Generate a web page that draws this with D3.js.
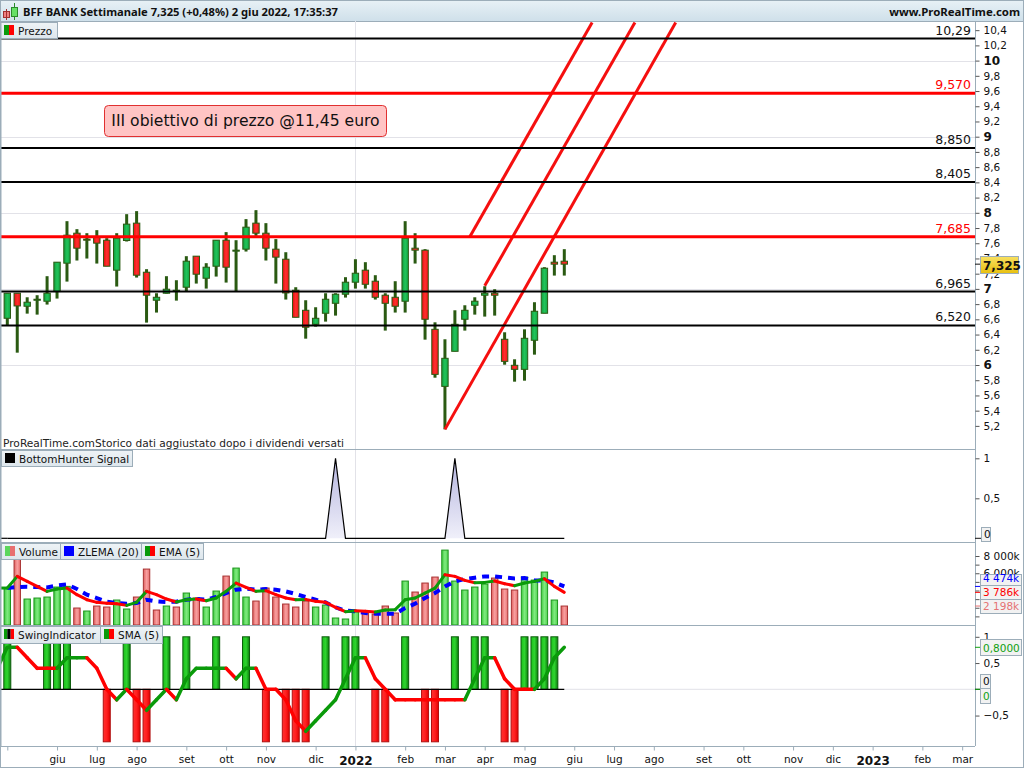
<!DOCTYPE html>
<html><head><meta charset="utf-8">
<script src="https://cdn.jsdelivr.net/npm/d3@7/dist/d3.min.js"></script>
<style>html,body{margin:0;padding:0;background:#fff;overflow:hidden}svg{display:block}text{font-family:"DejaVu Sans",sans-serif}</style>
</head><body><svg id="c" width="1024" height="768"></svg>
<script>
const opens=[6.614,6.943,6.772,6.855,6.838,6.965,7.338,7.732,7.654,7.680,7.640,7.246,7.636,7.864,7.219,6.851,6.943,6.974,7.022,7.430,7.140,7.298,7.640,7.496,7.522,7.864,7.732,7.522,7.390,6.982,6.719,6.535,6.680,6.811,6.930,7.088,7.246,7.101,6.917,6.890,6.838,7.535,7.509,6.469,5.719,6.180,6.601,6.785,6.917,6.943,6.338,5.996,5.943,6.325,6.680,7.351,7.364];
const highs=[6.943,6.943,6.890,6.917,7.167,7.351,7.890,7.785,7.732,7.772,7.667,7.732,7.982,8.022,7.259,6.943,7.167,7.114,7.430,7.430,7.338,7.640,7.746,7.640,7.917,8.035,7.864,7.654,7.482,7.022,6.851,6.759,6.943,6.943,7.154,7.390,7.351,7.180,6.943,7.101,7.890,7.732,7.522,6.561,6.338,6.719,6.785,6.890,7.035,6.996,6.430,6.075,6.469,6.825,7.285,7.443,7.522];
const lows=[6.526,6.162,6.675,6.662,6.794,6.873,7.096,7.373,7.399,7.333,7.298,7.031,7.623,7.149,6.557,6.689,6.939,6.846,6.969,7.070,7.004,7.162,7.083,6.965,7.491,7.697,7.373,7.070,6.860,6.627,6.346,6.504,6.570,6.649,6.886,7.004,7.004,6.860,6.452,6.689,6.689,7.333,6.333,5.833,5.154,6.180,6.452,6.662,6.636,6.649,6.004,5.781,5.794,6.136,6.680,7.175,7.175];
const closes=[6.943,6.776,6.825,6.864,6.943,7.351,7.706,7.535,7.640,7.601,7.298,7.667,7.851,7.180,6.917,6.890,6.996,6.982,7.364,7.193,7.285,7.640,7.285,7.509,7.811,7.732,7.535,7.417,6.947,6.627,6.496,6.614,6.864,6.930,7.088,7.206,7.061,6.890,6.811,6.772,7.667,7.509,6.601,5.877,6.088,6.535,6.719,6.838,6.943,6.917,6.048,5.943,6.351,6.706,7.272,7.325,7.325];
const volumes=[4285,7900,3011,3127,3242,4400,4478,1969,1621,2200,2084,2895,1853,3242,6485,1737,2200,2084,3706,3127,2084,3937,5674,6601,3242,2779,4285,3242,2432,2084,2779,2084,2316,811,695,1505,1390,1274,2200,1390,5095,3821,4864,5558,8685,5095,4053,4400,4748,5443,4169,4053,5558,5211,6137,2895,2198];
const volUp=[1,0,1,1,1,1,1,0,1,0,0,1,1,0,0,0,1,0,1,0,1,1,0,1,1,0,0,0,0,0,0,1,1,1,1,1,0,0,0,0,1,0,0,0,1,1,1,1,1,0,0,0,1,1,1,1,0];
const ema5=[4285,5636,5057,4478,3899,4169,4285,3513,2934,2625,2509,2470,2277,2625,3899,3513,3011,2663,2934,3011,2818,3127,3899,4864,4362,3899,3976,3513,3127,2934,2970,2741,2625,2046,1544,1660,1583,1505,1737,1776,2934,3127,3706,4285,5829,5636,5172,4902,4941,5095,4786,4555,4864,5057,5365,4478,3786];
const zlema20=[4285,4400,4439,4400,4362,4593,4709,4169,3513,3127,2702,2548,2470,2548,2934,2741,2663,2702,2934,3011,2934,3242,3706,4092,4207,4092,4169,4092,3899,3590,3242,2934,2625,2046,1660,1583,1390,1312,1312,1312,1969,2470,3127,3706,4478,5057,5327,5481,5636,5636,5520,5404,5443,5172,5172,4941,4474];
const bottomHunter=[0,0,0,0,0,0,0,0,0,0,0,0,0,0,0,0,0,0,0,0,0,0,0,0,0,0,0,0,0,0,0,0,0,1,0,0,0,0,0,0,0,0,0,0,0,1,0,0,0,0,0,0,0,0,0,0,0];
const swing=[1,0,0,0,1,1,1,0,0,0,-1,0,1,-1,-1,0,1,0,1,0,0,1,0,0,1,0,-1,0,-1,-1,-1,0,1,0,1,1,0,-1,-1,0,1,0,-1,-1,0,1,0,1,1,0,-1,-1,1,1,1,1,0];
const sma5=[0.8,0.8,0.6,0.4,0.4,0.4,0.6,0.6,0.6,0.4,0,-0.2,0,-0.2,-0.4,-0.2,0,-0.2,0.2,0.4,0.4,0.4,0.4,0.2,0.4,0.4,0,0,-0.2,-0.6,-0.8,-0.6,-0.4,-0.2,0.2,0.6,0.6,0.2,0,-0.2,-0.2,-0.2,-0.2,-0.2,-0.2,-0.2,-0.2,0.2,0.6,0.6,0.2,0,0,0,0.2,0.6,0.8];
const smaLead=0.4;
const levels=[10.29,9.57,8.85,8.405,7.685,6.965,6.52];
const levelLabels=["10,29","9,570","8,850","8,405","7,685","6,965","6,520"];
const levelRed=[0,1,0,0,1,0,0];
const trendFromX=[44,48,46.5], trendFromY=[5.154,7.04,7.685], trendToX=[67.2,63.1,58.8], trendToY=[10.5,10.5,10.5];
const monthIdx=[0,5,9,13,18,22,26,31,35,40,44,48,52,57,61,65,70,74,79,83,87,92,96];
const monthLabels=["","giu","lug","ago","set","ott","nov","dic","2022","feb","mar","apr","mag","giu","lug","ago","set","ott","nov","dic","2023","feb","mar"];
const gridPrices=[6,7,8,9,10];
const priceTicks=d3.range(26,53).map(d=>d/5);
const volTickLabels=[8000,6000];

const R=975, L=1;
const P1=[21,449],P2=[449,542],P3=[542,625],P4=[625,746];
const svg=d3.select("#c");
const defs=svg.append("defs");
function grad(id,stops,horizontal=true){
  const g=defs.append("linearGradient").attr("id",id).attr("x1",0).attr("y1",0).attr("x2",horizontal?1:0).attr("y2",horizontal?0:1);
  stops.forEach((c,i)=>g.append("stop").attr("offset",i/(stops.length-1)).attr("stop-color",c));
}
grad("gG",["#0f9c3d","#22c45a","#12a544"]);
grad("gR",["#e80f0f","#ff3030","#f01414"]);
grad("vG",["#3fc93f","#80ea80","#4fd24f"]);
grad("vR",["#e06060","#f8a0a0","#e87070"]);
grad("sG",["#1bbf1b","#2fd42f","#0a7d0a"]);
grad("sR",["#ff3030","#ff2020","#e00000"]);
grad("head",["#e8f1f6","#cfe0ea"],false);
grad("tab",["#eef3f6","#dde6ec"],false);
grad("bh",["#b4b4de","#f0f0fa"],false);
grad("px",["#f8e060","#e8c010"],false);
[["cp1",P1],["cp2",P2],["cp3",P3],["cp4",P4]].forEach(([id,p])=>defs.append("clipPath").attr("id",id).append("rect").attr("x",L).attr("y",p[0]).attr("width",R-L).attr("height",p[1]-p[0]));

const x=d3.scaleLinear().domain([0,56]).range([7.3,564.3]);
const yP=d3.scaleLinear().domain([6,10]).range([365,60.6]);
const yB=d3.scaleLinear().domain([0,1]).range([538.3,458.3]);
const yV=d3.scaleLinear().domain([0,8000]).range([625,556]);
const yS=d3.scaleLinear().domain([0,1]).range([689.3,636.8]);
const loc=d3.formatLocale({decimal:",",thousands:" ",grouping:[3],currency:["","€"],minus:"−"});
const f1=loc.format(".1f");
const fTick=v=>Number.isInteger(v)?String(v):f1(v);
const idx=d3.range(opens.length);
const border="#9cadb9";
const boldFont='"Noto Sans",sans-serif';

// header
svg.append("rect").attr("x",0).attr("y",0).attr("width",1024).attr("height",21).attr("fill","url(#head)");
svg.append("line").attr("x1",0).attr("x2",1024).attr("y1",21.5).attr("y2",21.5).attr("stroke",border);
const ic=svg.append("g");
ic.append("rect").attr("x",3.5).attr("y",11.5).attr("width",6).attr("height",6).attr("fill","#f08080").attr("stroke","#a03030");
ic.append("line").attr("x1",6.5).attr("x2",6.5).attr("y1",9).attr("y2",20).attr("stroke","#a03030");
ic.append("line").attr("x1",14.5).attr("x2",14.5).attr("y1",3).attr("y2",20).attr("stroke","#2a8a2a");
ic.append("rect").attr("x",11.5).attr("y",7.5).attr("width",6).attr("height",9).attr("fill","#66e066").attr("stroke","#2a8a2a");
svg.append("text").attr("x",23).attr("y",16).attr("font-size",11.2).attr("font-weight","bold").attr("fill","#111").style("font-family",boldFont).text("BFF BANK Settimanale 7,325 (+0,48%) 2 giu 2022, 17:35:37");
svg.append("text").attr("x",1020).attr("y",16).attr("text-anchor","end").attr("font-size",11.4).attr("font-weight","bold").attr("fill","#111").style("font-family",boldFont).text("www.ProRealTime.com");

// grid
const grid=svg.append("g").attr("stroke","#e2e2e8").attr("stroke-width",1);
grid.selectAll("line.h").data(gridPrices).join("line").attr("x1",L).attr("x2",R).attr("y1",d=>Math.round(yP(d))+.5).attr("y2",d=>Math.round(yP(d))+.5);
grid.append("line").attr("x1",Math.round(x(35))+.5).attr("x2",Math.round(x(35))+.5).attr("y1",P1[0]).attr("y2",P4[1]);
grid.append("line").attr("x1",x(56)).attr("x2",R).attr("y1",yS(0)).attr("y2",yS(0));

// price panel
const p1=svg.append("g").attr("clip-path","url(#cp1)");
const wick="#2a5a12";
p1.append("g").selectAll("line").data(idx).join("line")
 .attr("x1",i=>x(i)).attr("x2",i=>x(i)).attr("y1",i=>yP(highs[i])).attr("y2",i=>yP(lows[i])).attr("stroke",wick).attr("stroke-width",3);
p1.append("g").selectAll("rect").data(idx).join("rect")
 .attr("x",i=>x(i)-3.2).attr("width",6.4)
 .attr("y",i=>yP(Math.max(opens[i],closes[i])))
 .attr("height",i=>Math.max(1,Math.abs(yP(opens[i])-yP(closes[i]))))
 .attr("fill",i=>closes[i]>=opens[i]?"url(#gG)":"url(#gR)")
 .attr("stroke",wick).attr("stroke-width",1);
p1.append("g").selectAll("line").data(trendFromX).join("line")
 .attr("x1",d=>x(d)).attr("y1",(d,i)=>yP(trendFromY[i])).attr("x2",(d,i)=>x(trendToX[i])).attr("y2",(d,i)=>yP(trendToY[i]))
 .attr("stroke","#f50f0f").attr("stroke-width",3);
p1.append("g").selectAll("line").data(levels).join("line")
 .attr("x1",L).attr("x2",R).attr("y1",d=>yP(d)).attr("y2",d=>yP(d))
 .attr("stroke",(d,i)=>levelRed[i]?"#ff0000":"#000").attr("stroke-width",(d,i)=>levelRed[i]?3:2);
svg.append("g").selectAll("text").data(levels).join("text")
 .attr("x",971).attr("y",d=>yP(d)-4).attr("text-anchor","end").attr("font-size",12.5)
 .attr("fill",(d,i)=>levelRed[i]?"#ff0000":"#111").text((d,i)=>levelLabels[i]);
svg.append("rect").attr("x",104.5).attr("y",105.5).attr("width",282).attr("height",31).attr("rx",4).attr("fill","#ffc4c4").attr("stroke","#e03030");
svg.append("text").attr("x",245.5).attr("y",126).attr("text-anchor","middle").attr("font-size",15.6).attr("fill","#111").text("III obiettivo di prezzo @11,45 euro");
svg.append("text").attr("x",3).attr("y",447).attr("font-size",10.65).attr("fill","#222").text("ProRealTime.comStorico dati aggiustato dopo i dividendi versati");

// BottomHunter
const p2=svg.append("g").attr("clip-path","url(#cp2)");
const bhArea=d3.area().x(i=>x(i)).y0(yB(0)).y1(i=>yB(bottomHunter[i]));
p2.append("path").attr("d",bhArea(idx)).attr("fill","url(#bh)");
p2.append("path").attr("d",d3.line().x(i=>x(i)).y(i=>yB(bottomHunter[i]))(idx)).attr("fill","none").attr("stroke","#000").attr("stroke-width",1.2);
p2.append("line").attr("x1",L).attr("x2",x(0)).attr("y1",yB(0)).attr("y2",yB(0)).attr("stroke","#000").attr("stroke-width",1.2);

// Volume
const p3=svg.append("g").attr("clip-path","url(#cp3)");
p3.append("g").selectAll("rect").data(idx).join("rect")
 .attr("x",i=>x(i)-3.2).attr("width",6.4).attr("y",i=>yV(volumes[i])).attr("height",i=>yV(0)-yV(volumes[i]))
 .attr("fill",i=>volUp[i]?"url(#vG)":"url(#vR)").attr("stroke",i=>volUp[i]?"#1c961c":"#a83232").attr("stroke-width",1);
p3.append("path").attr("d",d3.line().x(i=>x(i)).y(i=>yV(zlema20[i]))(idx)).attr("fill","none").attr("stroke","#0000ff").attr("stroke-width",4).attr("stroke-dasharray","7 6");
function segs(g,arr,y,w,lead){
  const GREEN="#0a9a0a", RED="#ff0000";
  const cols=[];
  let cur=lead<=arr[0]?GREEN:RED;
  arr.forEach((v,i)=>{ if(i>0){ if(v>arr[i-1]) cur=GREEN; else if(v<arr[i-1]) cur=RED; } cols[i]=cur; });
  g.append("line").attr("x1",x(-1)).attr("x2",x(0)).attr("y1",y(lead)).attr("y2",y(arr[0])).attr("stroke",GREEN).attr("stroke-width",w);
  g.append("g").selectAll("line").data(idx.slice(1)).join("line")
   .attr("x1",i=>x(i-1)).attr("x2",i=>x(i)).attr("y1",i=>y(arr[i-1])).attr("y2",i=>y(arr[i]))
   .attr("stroke",i=>cols[i]).attr("stroke-width",w).attr("stroke-linecap","round");
}
segs(p3,ema5,yV,3,ema5[0]);

// Swing
const p4=svg.append("g").attr("clip-path","url(#cp4)");
p4.append("g").selectAll("rect").data(idx.filter(i=>swing[i]!==0)).join("rect")
 .attr("x",i=>x(i)-3.5).attr("width",7)
 .attr("y",i=>Math.min(yS(swing[i]),yS(0))).attr("height",i=>Math.abs(yS(swing[i])-yS(0)))
 .attr("fill",i=>swing[i]>0?"url(#sG)":"url(#sR)").attr("stroke",i=>swing[i]>0?"#0c5c0c":"#b01010").attr("stroke-width",1);
p4.append("line").attr("x1",L).attr("x2",x(56)).attr("y1",yS(0)).attr("y2",yS(0)).attr("stroke","#000").attr("stroke-width",1.2);
segs(p4,sma5,yS,3.5,smaLead);

// panel borders
svg.selectAll("line.sep").data([P2[0],P3[0],P3[1],P4[1]]).join("line").attr("class","sep")
 .attr("x1",0).attr("x2",R).attr("y1",d=>d+.5).attr("y2",d=>d+.5).attr("stroke",border);

// Right axes
function styleAxis(g){g.selectAll("path.domain").attr("stroke",border);g.selectAll(".tick line").attr("stroke","#555");g.selectAll("text").attr("fill","#111").attr("font-size",10.5).attr("font-family",'"DejaVu Sans",sans-serif');}
const ax1=svg.append("g").attr("transform",`translate(${R+.5},0)`).call(d3.axisRight(yP).tickValues(priceTicks).tickFormat(fTick).tickSize(4).tickPadding(4)).call(styleAxis);
ax1.select("path.domain").attr("d",`M0,${P1[0]}V${P1[1]}`);
ax1.selectAll(".tick text").filter(d=>Number.isInteger(d)).attr("font-weight","bold").attr("font-size",12);
const ax2=svg.append("g").attr("transform",`translate(${R+.5},0)`).call(d3.axisRight(yB).tickValues([0.5,1]).tickFormat(d=>d===1?"1":"0,5").tickSize(4).tickPadding(4)).call(styleAxis);
ax2.select("path.domain").attr("d",`M0,${P2[0]}V${P2[1]}`);
const ax3=svg.append("g").attr("transform",`translate(${R+.5},0)`).call(d3.axisRight(yV).tickValues(d3.range(1000,9000,1000)).tickFormat(d=>volTickLabels.includes(d)?loc.format(",")(d)+"k":"").tickSize(4).tickPadding(4)).call(styleAxis);
ax3.select("path.domain").attr("d",`M0,${P3[0]}V${P3[1]}`);
const ax4=svg.append("g").attr("transform",`translate(${R+.5},0)`).call(d3.axisRight(yS).tickValues([1,0.5,-0.5]).tickFormat(d=>d===1?"1":f1(d)).tickSize(4).tickPadding(4)).call(styleAxis);
ax4.select("path.domain").attr("d",`M0,${P4[0]}V${P4[1]}`);

// bottom axis
const axX=svg.append("g").attr("transform",`translate(0,${P4[1]+.5})`).call(d3.axisBottom(x).tickValues(monthIdx).tickFormat((d,i)=>monthLabels[i]).tickSize(4).tickPadding(3));
axX.select("path.domain").attr("d",`M0,0H${R}`).attr("stroke",border);
axX.selectAll(".tick line").attr("stroke",border);
axX.selectAll("text").attr("fill","#111").attr("font-size",10.5).attr("font-family",'"DejaVu Sans",sans-serif').attr("dy","0.95em");
axX.selectAll(".tick text").filter(d=>d===35||d===87).attr("font-weight","bold").attr("font-size",12);

// right boxes
function box(bx,by,bw,bh,txt,col,tickY,tickCol,fill="#f2f2f2",bold=false,fs=10.5){
  if(tickY!=null) svg.append("line").attr("x1",R).attr("x2",bx).attr("y1",tickY).attr("y2",tickY).attr("stroke",tickCol||col).attr("stroke-width",1);
  svg.append("rect").attr("x",bx+.5).attr("y",by+.5).attr("width",bw).attr("height",bh).attr("fill",fill).attr("stroke",border);
  svg.append("text").attr("x",bx+3).attr("y",by+bh-3).attr("font-size",fs).attr("font-weight",bold?"bold":"normal").attr("fill",col).text(txt);
}
box(980,256,38,17,"7,325","#111",yP(7.325),"#111","url(#px)",true,12);
box(981,527,9,14,"0","#111",yB(0),"#111");
box(980,574,41,11,"4 474k","#0000ff",yV(4474));
box(980,585,41,14,"3 786k","#ff0000",yV(3786));
box(980,599,41,14,"2 198k","#e57373",yV(2198));
box(980,639,41,16,"0,8000","#10a010",yS(0.8));
box(980,674,10,14,"0","#111",yS(0),"#111");
box(980,688,10,15,"0","#10a010",yS(0),"#10a010");

// legend tabs
function tab(tx,ty,tw,th,label,sw){
  const g=svg.append("g");
  g.append("rect").attr("x",tx+.5).attr("y",ty+.5).attr("width",tw).attr("height",th).attr("fill","url(#tab)").attr("stroke",border);
  const n=sw.length;
  sw.forEach((c,i)=>g.append("rect").attr("x",tx+4+i*(10/n)).attr("y",ty+3).attr("width",10/n).attr("height",10).attr("fill",c));
  g.append("text").attr("x",tx+18).attr("y",ty+13).attr("font-size",10.5).attr("fill","#111").text(label);
}
tab(0,22,57,16,"Prezzo",["#0a9a0a","#ff0000"]);
tab(1,450,131,16,"BottomHunter Signal",["#000"]);
tab(1,543,59,16,"Volume",["#5cd65c","#e87070"]);
tab(60,543,81,16,"ZLEMA (20)",["#0000ff"]);
tab(141,543,62,16,"EMA (5)",["#0a9a0a","#ff0000"]);
tab(0,626,100,17,"SwingIndicator",["#0a9a0a","#000","#ff0000"]);
tab(100,626,62,17,"SMA (5)",["#0a9a0a","#ff0000"]);

// frame
svg.append("rect").attr("x",.5).attr("y",.5).attr("width",1023).attr("height",767).attr("fill","none").attr("stroke",border);
svg.append("line").attr("x1",0.5).attr("x2",0.5).attr("y1",21).attr("y2",P4[1]).attr("stroke",border).attr("stroke-width",2);
</script></body></html>
